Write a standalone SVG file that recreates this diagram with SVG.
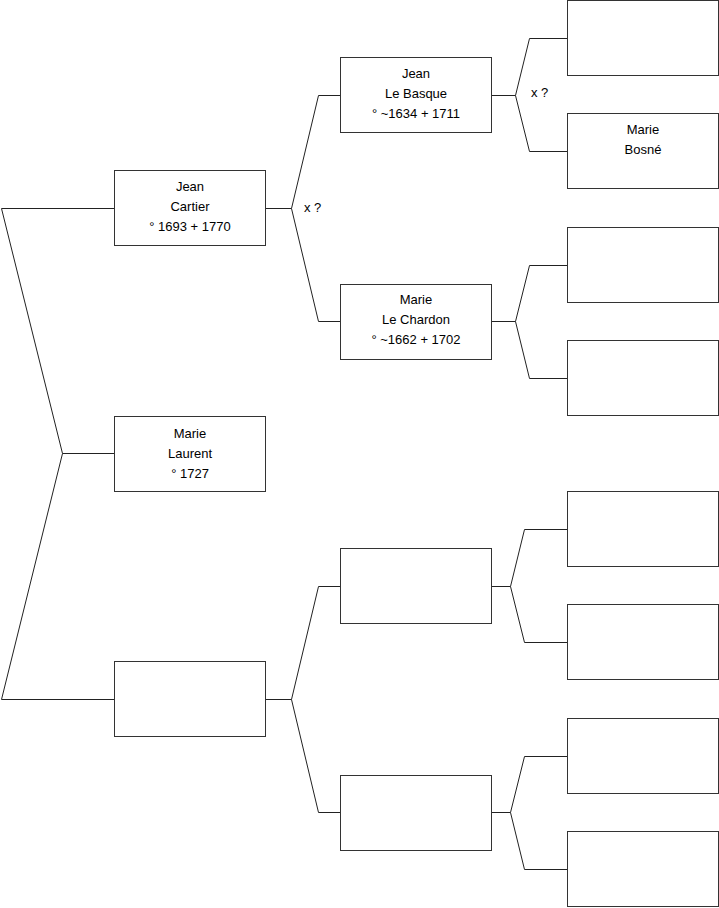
<svg xmlns="http://www.w3.org/2000/svg" width="719" height="908" viewBox="0 0 719 908">
<style>
.box{fill:#fff;stroke:#333;stroke-width:1}
.ln{fill:none;stroke:#222;stroke-width:1}
text{font-family:"Liberation Sans",Arial,sans-serif;font-size:13px;fill:#000;text-anchor:middle}
.lbl{text-anchor:start}
</style>
<rect width="719" height="908" fill="#fff"/>
<g id="connectors">
<polyline class="ln" points="114,208.5 1.5,208.5 62.5,453.5 1.5,699.5 114,699.5"/>
<line class="ln" x1="62.5" y1="453.5" x2="114" y2="453.5"/>
<polyline class="ln" points="340,95.5 318.5,95.5 291.5,208.5 318.5,321.5 340,321.5"/>
<line class="ln" x1="265" y1="208.5" x2="291.5" y2="208.5"/>
<polyline class="ln" points="340,586.5 318.5,586.5 291.5,699.5 318.5,812.5 340,812.5"/>
<line class="ln" x1="265" y1="699.5" x2="291.5" y2="699.5"/>
<polyline class="ln" points="567,38.5 529.5,38.5 515.5,95.5 529.5,151.5 567,151.5"/>
<line class="ln" x1="491" y1="95.5" x2="515.5" y2="95.5"/>
<polyline class="ln" points="567,265.5 529.5,265.5 515.5,321.5 529.5,378.5 567,378.5"/>
<line class="ln" x1="491" y1="321.5" x2="515.5" y2="321.5"/>
<polyline class="ln" points="567,529.5 524.5,529.5 510.5,586.5 524.5,642.5 567,642.5"/>
<line class="ln" x1="491" y1="586.5" x2="510.5" y2="586.5"/>
<polyline class="ln" points="567,756.5 524.5,756.5 510.5,812.5 524.5,869.5 567,869.5"/>
<line class="ln" x1="491" y1="812.5" x2="510.5" y2="812.5"/>
<text class="lbl" x="304" y="212">x ?</text>
<text class="lbl" x="531" y="97">x ?</text>
</g>
<g id="marie-laurent">
<rect class="box" x="114.5" y="416.5" width="151" height="75"/>
<text x="190" y="438">Marie</text>
<text x="190" y="458">Laurent</text>
<text x="190" y="478">° 1727</text>
</g>
<g id="jean-cartier">
<rect class="box" x="114.5" y="170.5" width="151" height="75"/>
<text x="190" y="191">Jean</text>
<text x="190" y="211">Cartier</text>
<text x="190" y="231">° 1693 + 1770</text>
</g>
<g id="mother-unknown">
<rect class="box" x="114.5" y="661.5" width="151" height="75"/>
</g>
<g id="jean-le-basque">
<rect class="box" x="340.5" y="57.5" width="151" height="75"/>
<text x="416" y="78">Jean</text>
<text x="416" y="98">Le Basque</text>
<text x="416" y="118">° ~1634 + 1711</text>
</g>
<g id="marie-le-chardon">
<rect class="box" x="340.5" y="284.5" width="151" height="75"/>
<text x="416" y="304">Marie</text>
<text x="416" y="324">Le Chardon</text>
<text x="416" y="344">° ~1662 + 1702</text>
</g>
<g id="gen2-c">
<rect class="box" x="340.5" y="548.5" width="151" height="75"/>
</g>
<g id="gen2-d">
<rect class="box" x="340.5" y="775.5" width="151" height="75"/>
</g>
<g id="gen3-a"><rect class="box" x="567.5" y="0.5" width="151" height="75"/></g>
<g id="marie-bosne">
<rect class="box" x="567.5" y="113.5" width="151" height="75"/>
<text x="643" y="134">Marie</text>
<text x="643" y="154">Bosné</text>
</g>
<g id="gen3-c"><rect class="box" x="567.5" y="227.5" width="151" height="75"/></g>
<g id="gen3-d"><rect class="box" x="567.5" y="340.5" width="151" height="75"/></g>
<g id="gen3-e"><rect class="box" x="567.5" y="491.5" width="151" height="75"/></g>
<g id="gen3-f"><rect class="box" x="567.5" y="604.5" width="151" height="75"/></g>
<g id="gen3-g"><rect class="box" x="567.5" y="718.5" width="151" height="75"/></g>
<g id="gen3-h"><rect class="box" x="567.5" y="831.5" width="151" height="75"/></g>
</svg>
